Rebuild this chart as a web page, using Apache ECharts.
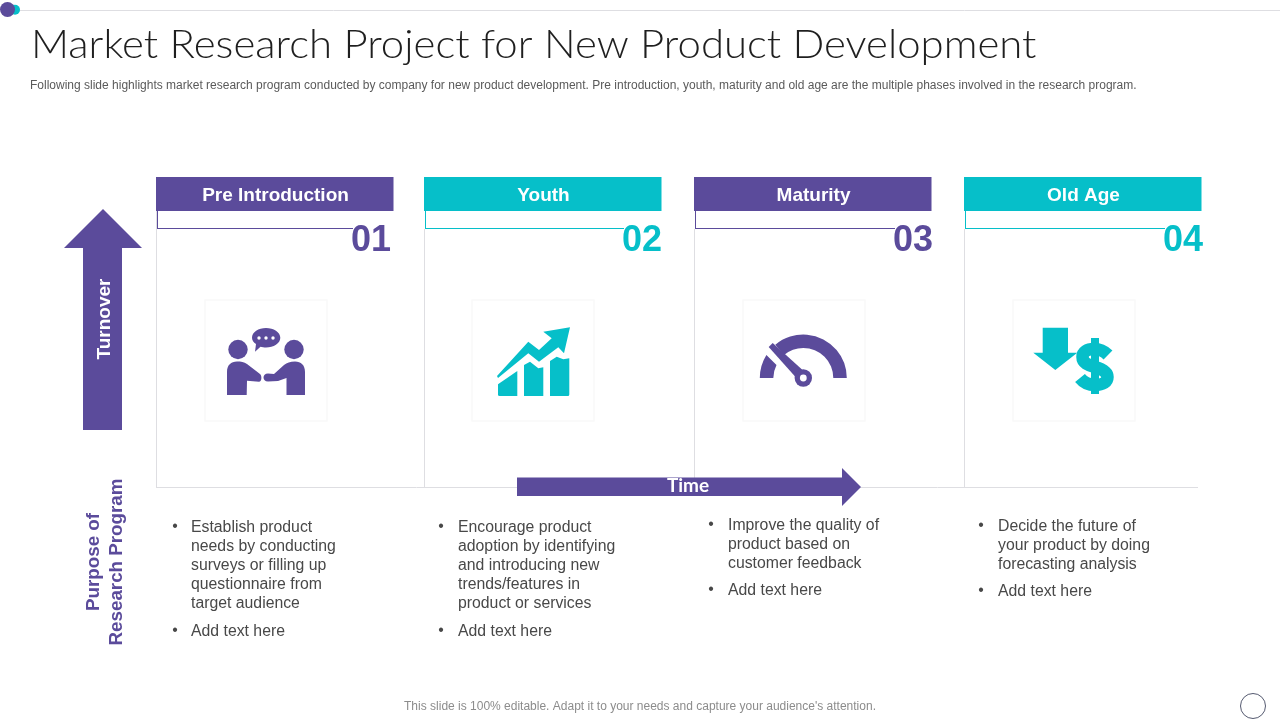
<!DOCTYPE html>
<html>
<head>
<meta charset="utf-8">
<title>Market Research Project for New Product Development</title>
<script src="https://cdn.jsdelivr.net/npm/echarts@6/dist/echarts.min.js"></script>
<style>
html, body { margin: 0; padding: 0; background: #fff; }
#chart { width: 1280px; height: 720px; }
</style>
</head>
<body>
<div id="chart"></div>
<script>
const titleText = 'Market Research Project for New Product Development';
const subtitleText = 'Following slide highlights market research program conducted by company for new product development. Pre introduction, youth, maturity and old age are the multiple phases involved in the research program.';
const footerText = "This slide is 100% editable. Adapt it to your needs and capture your audience's attention.";

const phaseNames = ['Pre Introduction', 'Youth', 'Maturity', 'Old Age'];
const phaseNumbers = ['01', '02', '03', '04'];
const phaseBullets = [
    ['Establish product\nneeds by conducting\nsurveys or filling up\nquestionnaire from\ntarget audience', 'Add text here'],
    ['Encourage product\nadoption by identifying\nand introducing new\ntrends/features in\nproduct or services', 'Add text here'],
    ['Improve the quality of\nproduct based on\ncustomer feedback', 'Add text here'],
    ['Decide the future of\nyour product by doing\nforecasting analysis', 'Add text here']
];

const PURPLE = '#5b4b9b';
const TEAL = '#06bfc9';
const phaseColors = [PURPLE, TEAL, PURPLE, TEAL];

// layout of the four columns
const headerX = [156, 424, 694, 964];
const numberRight = [391, 662, 933, 1203];
const boxX = [205, 472, 743, 1013];
const bulletX = [175, 441, 711, 981];
const bulletTextX = [191, 458, 728, 998];
const bulletTop = [528, 528, 526, 527];
const bulletGap = [632, 632, 591, 592];

const SANS = '"Liberation Sans", Arial, sans-serif';
const LINE_COLOR = '#dedee2';
const BODY_COLOR = '#484848';

function text(str, x, y, font, fill, align, extra) {
    return Object.assign({
        type: 'text',
        x: x,
        y: y,
        style: {
            text: str,
            x: 0,
            y: 0,
            font: font,
            fill: fill,
            textAlign: align || 'left',
            textVerticalAlign: 'middle'
        }
    }, extra || {});
}

function line(x1, y1, x2, y2, color) {
    return {
        type: 'line',
        shape: { x1: x1, y1: y1, x2: x2, y2: y2 },
        style: { stroke: color, lineWidth: 1 }
    };
}

function poly(d, color) {
    return { type: 'path', shape: { pathData: d }, style: { fill: color } };
}

function circle(cx, cy, r, color) {
    return { type: 'circle', shape: { cx: cx, cy: cy, r: r }, style: { fill: color } };
}

function peopleIcon(color) {
    return [
        circle(238, 349.5, 9.7, color),
        circle(294, 349.5, 9.7, color),
        poly('M227 395 L227 372 C227 365 231 361.5 237 361.5 C241 361.5 244 362 247 364 L260 374 C262 375.5 262 381.7 259 381.7 L247 380.7 L246.7 395 Z', color),
        poly('M305 395 L305 372 C305 365 301 361.5 295 361.5 C290 361.5 287 363 284 365 L274 374 L268 373.5 C262 373.5 262 381.5 268 381.5 L278 381 L286.5 378 L286.5 395 Z', color),
        poly('M252 337.7 C252 332 258.5 328 266 328 C273.5 328 280.3 332 280.3 337.7 C280.3 343.4 273.5 347.4 266 347.4 C264 347.4 262 347.2 260.5 346.7 L255 351.7 L256 344 C253.5 342.5 252 340.2 252 337.7 Z', color),
        circle(259, 338, 1.7, '#fff'),
        circle(266, 338, 1.7, '#fff'),
        circle(273, 338, 1.7, '#fff')
    ];
}

function growthIcon(color) {
    return [
        poly('M498 384.3 L517.3 371 L517.3 396 L499.5 396 Q498 396 498 394.5 Z', color),
        poly('M524 365 L530 361.7 L538.3 368.3 L543.3 367.3 L543.3 396 L524 396 Z', color),
        poly('M550 361 L556.7 356.7 L563.3 359.3 L569.3 358.3 L569.3 394.5 Q569.3 396 567.8 396 L550 396 Z', color),
        poly('M497 376 L528.3 341.7 L539 350 L551.7 338.3 L543.3 331.7 L570 327.3 L564 353.3 L558.3 347.3 L539 361.7 L528.3 353.3 L498 378 Z', color)
    ];
}

function gaugeIcon(color) {
    return [
        poly('M759.8 378 A43.5 43.5 0 0 1 766.4 355 L776.5 365 A30 30 0 0 0 773.3 378 Z', color),
        poly('M775.3 344.7 A43.5 43.5 0 0 1 846.8 378 L833.3 378 A30 30 0 0 0 784 355 Z', color),
        poly('M768.7 347 L772.7 343 L807 374 L800 382 Z', color),
        circle(803.3, 378, 8.7, color),
        circle(803.3, 378, 3.4, '#fff')
    ];
}

function dollarIcon(color) {
    return [
        poly('M1042.7 327.7 L1068 327.7 L1068 352.7 L1077.3 352.7 L1055.3 370 L1033.3 352.7 L1042.7 352.7 Z', color),
        { type: 'rect', shape: { x: 1091, y: 338, width: 8, height: 56 }, style: { fill: color } },
        {
            type: 'path',
            shape: { pathData: 'M1108 355 C1104 351 1100 349 1094 349 C1087 349 1082.5 352 1082.5 357 C1082.5 363 1088 365 1095 367 C1102 369 1107.5 372 1107.5 377 C1107.5 382 1103 385 1095 385 C1089 385 1084 383 1080 378' },
            style: { fill: 'none', stroke: color, lineWidth: 12.5 }
        }
    ];
}

const icons = [peopleIcon, growthIcon, gaugeIcon, dollarIcon];

function buildSlide() {
    const items = [];

    // top rule with its two dots
    items.push(line(18, 10.5, 1280, 10.5, LINE_COLOR));
    items.push(circle(15, 9.7, 5, TEAL));
    items.push(circle(7.5, 9.5, 7.5, PURPLE));

    items.push(text(titleText, 31, 45, '300 40px Lato, sans-serif', '#1f1f1f', 'left', { scaleX: 1.048 }));
    items.push(text(subtitleText, 30, 85.5, '12px ' + SANS, '#5a5a5a'));

    // grid behind the columns
    headerX.forEach((x, i) => {
        items.push(line(x + 0.5, i === 0 ? 211 : 229, x + 0.5, 487.5, LINE_COLOR));
    });
    items.push(line(156, 487.5, 1198, 487.5, LINE_COLOR));

    phaseNames.forEach((name, i) => {
        const color = phaseColors[i];
        const x = headerX[i];
        items.push({ type: 'rect', shape: { x: x, y: 177, width: 237.5, height: 34 }, style: { fill: color } });
        items.push(text(name, x + 119.5, 195.5, 'bold 19px ' + SANS, '#fff', 'center'));
        items.push(line(x + 1.5, 211, x + 1.5, 229, color));
        items.push(line(x + 1, 228.5, numberRight[i] - 38, 228.5, color));
        items.push(text(phaseNumbers[i], numberRight[i], 241, 'bold 36px ' + SANS, color, 'right'));

        items.push({
            type: 'rect',
            shape: { x: boxX[i], y: 300, width: 122, height: 121 },
            style: { fill: '#fff', stroke: '#f9f9f9', lineWidth: 1.5 }
        });
        icons[i](color).forEach(el => items.push(el));

        const lines = phaseBullets[i][0].split('\n');
        lines.forEach((txt, j) => {
            items.push(text(txt, bulletTextX[i], bulletTop[i] + j * 19, '15.8px ' + SANS, BODY_COLOR));
        });
        items.push(text('•', bulletX[i], bulletTop[i] - 1, '15.8px ' + SANS, BODY_COLOR, 'center'));
        items.push(text(phaseBullets[i][1], bulletTextX[i], bulletGap[i], '15.8px ' + SANS, BODY_COLOR));
        items.push(text('•', bulletX[i], bulletGap[i] - 1, '15.8px ' + SANS, BODY_COLOR, 'center'));
    });

    // turnover arrow
    items.push(poly('M103 209 L142 248 L122 248 L122 430 L83 430 L83 248 L64 248 Z', PURPLE));
    items.push(text('Turnover', 104.5, 319, 'bold 19px ' + SANS, '#fff', 'center', { rotation: Math.PI / 2 }));

    // time arrow
    items.push(poly('M517 477.5 L842 477.5 L842 468 L861 487 L842 506 L842 496 L517 496 Z', PURPLE));
    items.push(text('Time', 688, 486, 'bold 19px Lato, sans-serif', '#fff', 'center'));

    items.push(text('Purpose of', 93.5, 562, 'bold 18.8px ' + SANS, PURPLE, 'center', { rotation: Math.PI / 2 }));
    items.push(text('Research Program', 116.5, 562, 'bold 18.8px ' + SANS, PURPLE, 'center', { rotation: Math.PI / 2 }));

    items.push(text(footerText, 640, 707, '12px ' + SANS, '#8c8c8c', 'center'));
    items.push({ type: 'circle', shape: { cx: 1253, cy: 706, r: 12.5 }, style: { fill: 'none', stroke: '#555a70', lineWidth: 1 } });

    return items;
}

const chart = echarts.init(document.getElementById('chart'));
chart.setOption({
    backgroundColor: '#fff',
    animation: false,
    series: [{
        type: 'custom',
        coordinateSystem: 'none',
        silent: true,
        data: [0],
        renderItem: () => ({ type: 'group', children: buildSlide() })
    }]
});
window.addEventListener('resize', () => chart.resize());
</script>
</body>
</html>
